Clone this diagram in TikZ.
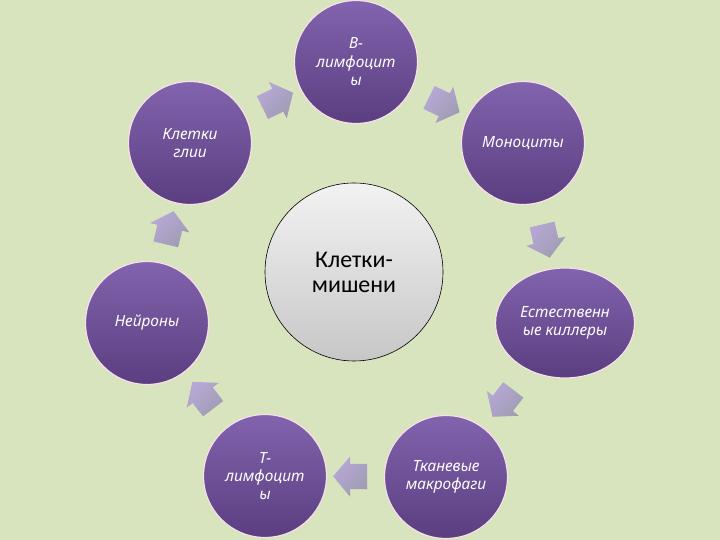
\documentclass[tikz,border=0pt]{standalone}
\usepackage{fontspec}
\setmainfont{Carlito}
\newfontfamily\cellfont{Noto Sans}
\usetikzlibrary{shapes.geometric,shapes.arrows}

\definecolor{sage}{RGB}{215,228,189}
\definecolor{plumtop}{RGB}{130,99,174}
\definecolor{plumbot}{RGB}{90,62,128}
\definecolor{arrowtop}{RGB}{183,168,214}
\definecolor{arrowbot}{RGB}{160,156,180}

\tikzstyle{slide}=[x=1bp,y=1bp]
\tikzstyle{cell}=[circle,minimum size=123bp,inner sep=0pt,top color=plumtop,bottom color=plumbot,draw=white!88!purple,line width=1.2bp,text=white,align=center,font=\cellfont\itshape\fontsize{15.5}{18.5}\selectfont]
\tikzstyle{target}=[circle,minimum size=178bp,inner sep=0pt,top color=white!95!black,bottom color=white!78!black,draw=black,line width=0.6bp,align=center,font=\fontsize{24}{25}\selectfont]
\tikzstyle{cyclearrow}=[single arrow,minimum height=34bp,minimum width=40bp,single arrow head extend=7.5bp,single arrow tip angle=100,inner xsep=0pt,inner ysep=12.5bp,top color=arrowtop,bottom color=arrowbot,shading angle=45]

\begin{document}
\begin{tikzpicture}[style=slide]
\fill[sage] (0,0) rectangle (720,540);
\useasboundingbox (0,0) rectangle (720,540);

\node[target] (mish) at (354,268) {Клетки-\\мишени};

\node[cell] (blym) at (356,478) {В-\\лимфоцит\\ы};
\node[cell] (mono) at (523,397) {Моноциты};
\node[cell,ellipse,minimum width=139bp,minimum height=110bp] (nk) at (565,217) {Естественн\\ые киллеры};
\node[cell] (macro) at (446,63) {Тканевые\\макрофаги};
\node[cell] (tlym) at (265,64) {Т-\\лимфоцит\\ы};
\node[cell] (neur) at (147,217) {Нейроны};
\node[cell] (glia) at (190,397) {Клетки\\глии};

\foreach \from/\to in {glia/blym,blym/mono,mono/nk,nk/macro,macro/tlym,tlym/neur,neur/glia}{% arrows
    \path (\from) -- (\to) node[midway,sloped,allow upside down,cyclearrow] {};
}

\end{tikzpicture}
\end{document}
